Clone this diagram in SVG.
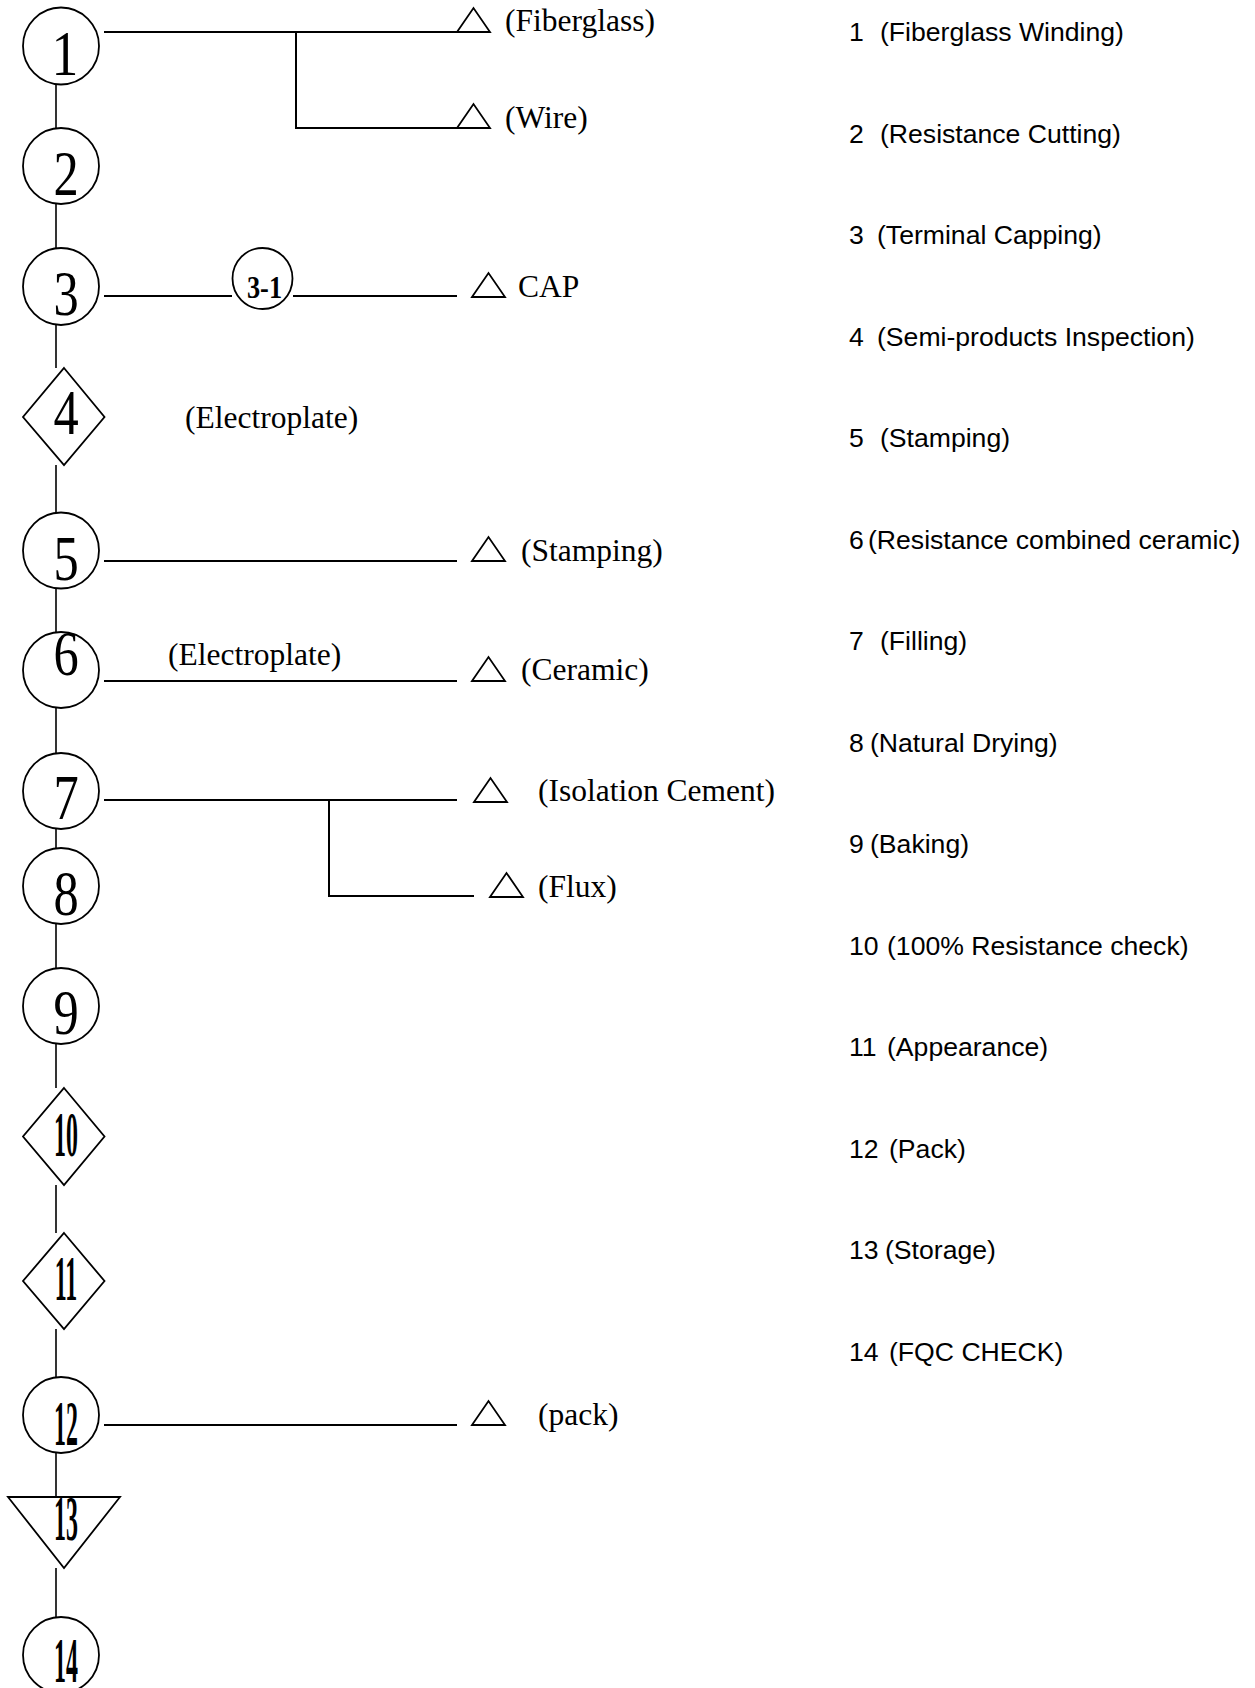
<svg xmlns="http://www.w3.org/2000/svg" xmlns:xlink="http://www.w3.org/1999/xlink" width="1255" height="1688" viewBox="0 0 1255 1688">
<style>
.ln{stroke:#000;stroke-width:2;fill:none}
.vl{stroke:#000;stroke-width:1.6;fill:none}
.sh{fill:#fff;stroke:#000;stroke-width:1.8}
.tri{fill:none;stroke:#000;stroke-width:1.8;stroke-linejoin:miter}
.num{font-family:"Liberation Serif","Times New Roman",serif;font-size:63px;text-anchor:middle}
.num2{font-family:"Liberation Serif","Times New Roman",serif;font-size:63px;font-weight:bold;text-anchor:middle}
.lbl{font-family:"Liberation Serif","Times New Roman",serif;font-size:31.5px}
.rt{font-family:"Liberation Sans",Arial,sans-serif;font-size:26.6px}
</style>
<defs>
<path id="mat" d="M0,0 L16.5,-24 L33,0 Z"/>
</defs>
<rect width="1255" height="1688" fill="#fff"/>

<g id="connectors">
<line class="vl" x1="56" y1="80" x2="56" y2="128"/>
<line class="vl" x1="56" y1="200" x2="56" y2="248"/>
<line class="vl" x1="56" y1="320" x2="56" y2="368"/>
<line class="vl" x1="56" y1="465" x2="56" y2="513"/>
<line class="vl" x1="56" y1="585" x2="56" y2="633"/>
<line class="vl" x1="56" y1="705" x2="56" y2="753"/>
<line class="vl" x1="56" y1="827" x2="56" y2="848"/>
<line class="vl" x1="56" y1="920" x2="56" y2="968"/>
<line class="vl" x1="56" y1="1040" x2="56" y2="1088"/>
<line class="vl" x1="56" y1="1185" x2="56" y2="1233"/>
<line class="vl" x1="56" y1="1329" x2="56" y2="1377"/>
<line class="vl" x1="56" y1="1448" x2="56" y2="1497"/>
<line class="vl" x1="56" y1="1568" x2="56" y2="1617"/>
<polyline class="ln" points="104,32 457,32"/>
<polyline class="ln" points="296,32 296,128 457,128"/>
<line class="ln" x1="104" y1="296" x2="232" y2="296"/>
<line class="ln" x1="293" y1="296" x2="457" y2="296"/>
<line class="ln" x1="104" y1="561" x2="457" y2="561"/>
<line class="ln" x1="104" y1="681" x2="457" y2="681"/>
<line class="ln" x1="104" y1="800" x2="457" y2="800"/>
<polyline class="ln" points="329,800 329,896 474,896"/>
<line class="ln" x1="104" y1="1425" x2="457" y2="1425"/>
</g>

<g id="node-1"><ellipse class="sh" cx="61" cy="46" rx="38" ry="38.5"/><text class="num" transform="translate(65 75) scale(0.85 1)">1</text></g>
<g id="node-2"><ellipse class="sh" cx="61" cy="166" rx="38" ry="38"/><text class="num" transform="translate(66 195) scale(0.8 1)">2</text></g>
<g id="node-3"><ellipse class="sh" cx="61" cy="286.5" rx="38" ry="38.5"/><text class="num" transform="translate(66 315) scale(0.8 1)">3</text></g>
<g id="node-3-1"><ellipse class="sh" cx="262.5" cy="278.5" rx="30" ry="30.5"/><text class="num2" style="font-size:31px" transform="translate(264.5 298) scale(0.85 1)">3-1</text></g>
<g id="node-4"><polygon class="sh" points="64,368 104.5,417 64,465 23,417"/><text class="num" transform="translate(66 434) scale(0.8 1)">4</text></g>
<g id="node-5"><ellipse class="sh" cx="61" cy="550.5" rx="38" ry="38"/><text class="num" transform="translate(66 580) scale(0.8 1)">5</text></g>
<g id="node-6"><ellipse class="sh" cx="61" cy="670" rx="38" ry="38"/><text class="num" transform="translate(66 675) scale(0.8 1)">6</text></g>
<g id="node-7"><ellipse class="sh" cx="61" cy="791" rx="38" ry="38"/><text class="num" transform="translate(66 819) scale(0.8 1)">7</text></g>
<g id="node-8"><ellipse class="sh" cx="61" cy="886" rx="38" ry="38"/><text class="num" transform="translate(66 915) scale(0.8 1)">8</text></g>
<g id="node-9"><ellipse class="sh" cx="61" cy="1006" rx="38" ry="38"/><text class="num" transform="translate(66 1034) scale(0.8 1)">9</text></g>
<g id="node-10"><polygon class="sh" points="64,1088 104.5,1136.5 64,1185 23,1136.5"/><text class="num2" transform="translate(66 1156) scale(0.38 1)">10</text></g>
<g id="node-11"><polygon class="sh" points="64,1233 104.5,1281 64,1329 23,1281"/><text class="num2" transform="translate(66 1300) scale(0.38 1)">11</text></g>
<g id="node-12"><ellipse class="sh" cx="61" cy="1415" rx="38" ry="38"/><text class="num2" transform="translate(66 1445) scale(0.38 1)">12</text></g>
<g id="node-13"><polygon class="sh" points="8,1497 120,1497 64,1568"/><text class="num2" transform="translate(66 1540) scale(0.38 1)">13</text></g>
<g id="node-14"><ellipse class="sh" cx="61" cy="1655" rx="38" ry="38"/><text class="num2" transform="translate(66 1682) scale(0.38 1)">14</text></g>

<g id="mat-fiberglass"><use href="#mat" xlink:href="#mat" class="tri" x="457" y="32"/><text class="lbl" x="505" y="31">(Fiberglass)</text></g>
<g id="mat-wire"><use href="#mat" xlink:href="#mat" class="tri" x="457" y="128"/><text class="lbl" x="505" y="128">(Wire)</text></g>
<g id="mat-cap"><use href="#mat" xlink:href="#mat" class="tri" x="472" y="297"/><text class="lbl" x="518" y="297">CAP</text></g>
<g id="note-electroplate-4"><text class="lbl" x="185" y="428">(Electroplate)</text></g>
<g id="mat-stamping"><use href="#mat" xlink:href="#mat" class="tri" x="472" y="561"/><text class="lbl" x="521" y="561">(Stamping)</text></g>
<g id="note-electroplate-6"><text class="lbl" x="168" y="665">(Electroplate)</text></g>
<g id="mat-ceramic"><use href="#mat" xlink:href="#mat" class="tri" x="472" y="681"/><text class="lbl" x="521" y="680">(Ceramic)</text></g>
<g id="mat-isolation"><use href="#mat" xlink:href="#mat" class="tri" x="474" y="802"/><text class="lbl" x="538" y="801">(Isolation Cement)</text></g>
<g id="mat-flux"><use href="#mat" xlink:href="#mat" class="tri" x="490" y="897"/><text class="lbl" x="538" y="897">(Flux)</text></g>
<g id="mat-pack"><use href="#mat" xlink:href="#mat" class="tri" x="472" y="1425"/><text class="lbl" x="538" y="1425">(pack)</text></g>

<g id="legend">
<text class="rt" y="41"><tspan x="849">1</tspan><tspan x="880">(Fiberglass Winding)</tspan></text>
<text class="rt" y="142.5"><tspan x="849">2</tspan><tspan x="880">(Resistance Cutting)</tspan></text>
<text class="rt" y="244"><tspan x="849">3</tspan><tspan x="877">(Terminal Capping)</tspan></text>
<text class="rt" y="345.5"><tspan x="849">4</tspan><tspan x="877">(Semi-products Inspection)</tspan></text>
<text class="rt" y="447"><tspan x="849">5</tspan><tspan x="880">(Stamping)</tspan></text>
<text class="rt" y="548.5"><tspan x="849">6</tspan><tspan x="868">(Resistance combined ceramic)</tspan></text>
<text class="rt" y="650"><tspan x="849">7</tspan><tspan x="880">(Filling)</tspan></text>
<text class="rt" y="751.5"><tspan x="849">8</tspan><tspan x="870">(Natural Drying)</tspan></text>
<text class="rt" y="853"><tspan x="849">9</tspan><tspan x="870">(Baking)</tspan></text>
<text class="rt" y="954.5"><tspan x="849">10</tspan><tspan x="887">(100% Resistance check)</tspan></text>
<text class="rt" y="1056"><tspan x="849">11</tspan><tspan x="887">(Appearance)</tspan></text>
<text class="rt" y="1157.5"><tspan x="849">12</tspan><tspan x="889">(Pack)</tspan></text>
<text class="rt" y="1259"><tspan x="849">13</tspan><tspan x="885">(Storage)</tspan></text>
<text class="rt" y="1360.5"><tspan x="849">14</tspan><tspan x="889">(FQC CHECK)</tspan></text>
</g>
</svg>
